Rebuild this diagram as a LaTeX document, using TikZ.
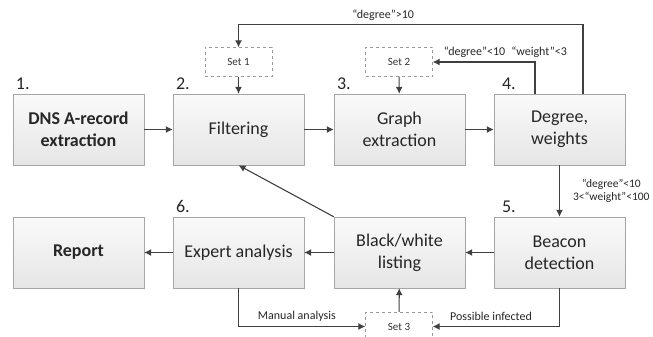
\documentclass[tikz,border=0pt]{standalone}
\usepackage{fontspec}
\setmainfont{Carlito}
\usepackage{tikz}
\usetikzlibrary{positioning,arrows,arrows.meta}
\usetikzlibrary{shadows}
\usetikzlibrary{calc}

\begin{document}
\begin{tikzpicture}[x=1pt,y=-1pt,
                stage/.style={rectangle, draw=black!35, top color=black!2, bottom color=black!10,
                    minimum width=131pt, minimum height=71pt, align=center, text=black!85,
                    font=\fontsize{18}{22}\selectfont,
                    drop shadow={opacity=0.18, shadow xshift=1pt, shadow yshift=-1pt}},
                setbox/.style={rectangle, draw=black!40, dashed, fill=white, minimum width=67pt,
                    minimum height=29pt, text=black!80, font=\fontsize{11}{13}\selectfont},
                num/.style={anchor=south west, inner sep=1pt, text=black!85,
                    font=\fontsize{18}{20}\selectfont},
                cond/.style={text=black!85, inner sep=1pt, font=\fontsize{12}{14}\selectfont},
                arr/.style={-{Latex[length=7pt,width=7pt]}, draw=black!75, line width=1.1pt},]
            \useasboundingbox (0,0) rectangle (653,337);
            % stages, top row
            \node[stage] (dns) at (78.5,129.5) {\bfseries DNS A-record\\\bfseries extraction};
            \node[stage] (filt) at (238.5,129.5) {Filtering};
            \node[stage] (graph) at (399.5,129.5) {Graph\\extraction};
            \node[stage] (deg) at (559.5,129.5) {Degree,\\weights};
            % stages, bottom row
            \node[stage] (rep) at (78.5,252.5) {\bfseries Report};
            \node[stage] (exp) at (238.5,252.5) {Expert analysis};
            \node[stage] (bw) at (399.5,252.5) {Black/white\\listing};
            \node[stage] (beac) at (559.5,252.5) {Beacon\\detection};
            % sets
            \node[setbox] (set1) at (238.5,62) {Set 1};
            \node[setbox] (set2) at (399,62) {Set 2};
            \node[setbox] (set3) at (399,326.5) {Set 3};
            % step numbers
            \node[num] (n1) at ([xshift=2pt,yshift=3pt]dns.north west) {1.};
            \node[num] (n2) at ([xshift=2pt,yshift=3pt]filt.north west) {2.};
            \node[num] (n3) at ([xshift=2pt,yshift=3pt]graph.north west) {3.};
            \node[num] (n4) at ([xshift=7pt,yshift=3pt]deg.north west) {4.};
            \node[num] (n5) at ([xshift=7pt,yshift=3pt]beac.north west) {5.};
            \node[num] (n6) at ([xshift=2pt,yshift=3pt]exp.north west) {6.};

            \draw[arr] (dns) -- (filt);
            \draw[arr] (filt) -- (graph);
            \draw[arr] (graph) -- (deg);
            \draw[arr] (set1) -- (filt);
            \draw[arr] (set2) -- (graph);
            \draw[arr] ([xshift=23.5pt]deg.north) |- ([yshift=22.5pt]set1.north)
                node[cond, above=3pt, pos=0.79] {“degree”>10} -- (set1.north);
            \draw[arr] ([xshift=-24.5pt]deg.north) |- (set2.east)
                node[cond, above=3pt, pos=0.645] {“degree”<10\enspace “weight”<3};
            \draw[arr] (deg) -- (beac)
                node[cond, midway, anchor=west, xshift=12pt, align=center,
                    font=\fontsize{11.5}{13.5}\selectfont] {“degree”<10\\3<“weight”<100};
            \draw[arr] (beac) -- (bw);
            \draw[arr] (bw) -- (exp);
            \draw[arr] (exp) -- (rep);
            \draw[arr] (bw.north west) -- (filt.south);
            \draw[arr] (set3) -- (bw);
            \draw[arr] (exp.south) |- (set3.west)
                node[cond, above=4pt, pos=0.73] {Manual analysis};
            \draw[arr] (beac.south) |- (set3.east)
                node[cond, above=4pt, pos=0.77] {Possible infected};
        \end{tikzpicture}
\end{document}
